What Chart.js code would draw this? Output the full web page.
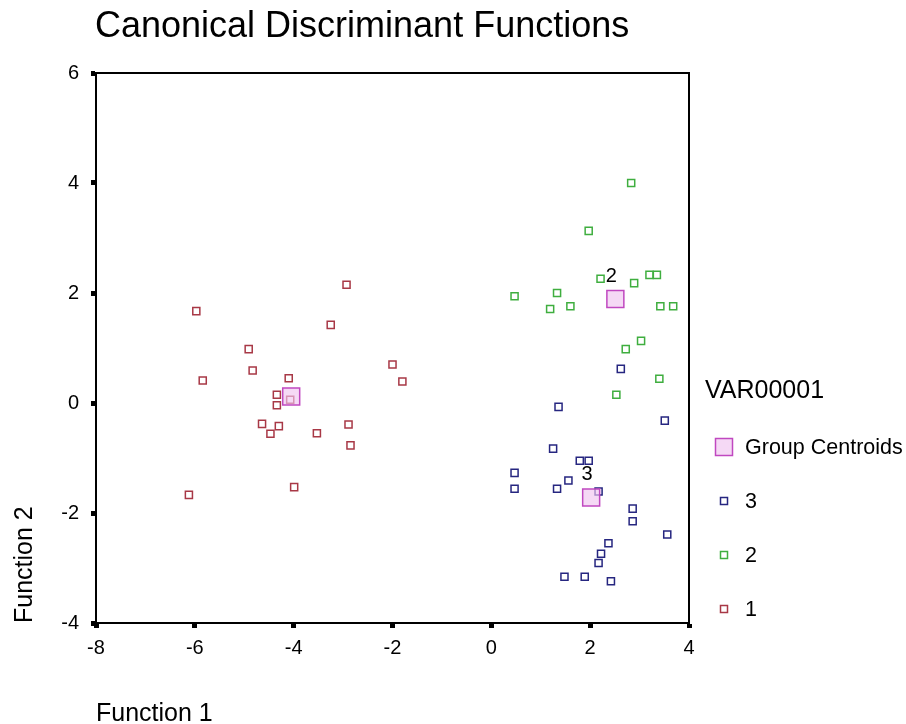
<!DOCTYPE html>
<html>
<head>
<meta charset="utf-8">
<title>Canonical Discriminant Functions</title>
<script src="https://cdn.jsdelivr.net/npm/chart.js@4.4.1/dist/chart.umd.min.js"></script>
<style>
  html, body { margin: 0; padding: 0; background: #fff; }
  #chart { display: block; }
</style>
</head>
<body>
<canvas id="chart" width="906" height="724"></canvas>
<script>
// --- Data: [Function 1, Function 2] ---
const group1 = [
  [-5.97, 1.67], [-4.91, 0.98], [-4.83, 0.59], [-5.84, 0.41], [-4.34, 0.15],
  [-4.34, -0.04], [-4.64, -0.38], [-4.47, -0.56], [-2.93, 2.15], [-3.25, 1.42],
  [-2.00, 0.70], [-1.80, 0.39], [-4.10, 0.45], [-4.07, 0.06], [-4.30, -0.42],
  [-3.53, -0.55], [-2.89, -0.39], [-2.85, -0.77], [-3.99, -1.53], [-6.12, -1.67]
];
const group2 = [
  [2.83, 4.00], [1.97, 3.13], [2.21, 2.26], [2.89, 2.18], [3.20, 2.33],
  [3.35, 2.33], [0.47, 1.94], [1.33, 2.00], [1.19, 1.71], [1.60, 1.76],
  [3.42, 1.76], [3.68, 1.76], [3.03, 1.13], [2.72, 0.98], [3.40, 0.44],
  [2.53, 0.15]
];
const group3 = [
  [2.62, 0.62], [1.36, -0.07], [3.51, -0.32], [1.25, -0.83], [1.79, -1.05],
  [1.97, -1.05], [0.47, -1.27], [0.47, -1.56], [1.56, -1.41], [1.33, -1.56],
  [2.17, -1.61], [2.86, -1.92], [2.86, -2.15], [3.56, -2.39], [2.37, -2.55],
  [2.22, -2.74], [2.17, -2.91], [1.48, -3.16], [1.89, -3.16], [2.42, -3.24]
];
const centroids = [[-4.05, 0.12], [2.51, 1.89], [2.02, -1.72]];
const centroidLabels = ['', '2', '3'];   // the "1" label is not visible in the source

const xTicks = [-8, -6, -4, -2, 0, 2, 4];
const yTicks = [-4, -2, 0, 2, 4, 6];

const chartTitle = 'Canonical Discriminant Functions';
const xTitle = 'Function 1';
const yTitle = 'Function 2';
const legendTitle = 'VAR00001';
const legendLabels = ['Group Centroids', '3', '2', '1'];

// --- Styles ---
const FONT = '"Liberation Sans", Arial, sans-serif';
const RED = '#a83846';
const GREEN = '#3fae3f';
const NAVY = '#262680';
const MAGENTA = '#c048c0';
const PINK = 'rgba(240, 196, 240, 0.65)';

const toPoints = arr => arr.map(p => ({ x: p[0], y: p[1] }));

function smallSet(label, data, color) {
  return {
    label,
    data: toPoints(data),
    pointStyle: 'rect',
    pointRadius: 5,
    pointHoverRadius: 5,
    borderColor: color,
    backgroundColor: 'rgba(255,255,255,0)',
    pointBorderWidth: 1.5
  };
}

// dataset 0 is drawn on top, so centroids go first (also matches legend order)
const datasets = [
  {
    label: legendLabels[0],
    data: toPoints(centroids),
    pointStyle: 'rect',
    pointRadius: 12,
    pointHoverRadius: 12,
    borderColor: MAGENTA,
    backgroundColor: PINK,
    pointBorderWidth: 1.5
  },
  smallSet(legendLabels[1], group3, NAVY),
  smallSet(legendLabels[2], group2, GREEN),
  smallSet(legendLabels[3], group1, RED)
];

// --- Frame, title, centroid labels and legend ---
const overlay = {
  id: 'overlay',
  beforeDatasetsDraw(chart) {
    const { ctx, chartArea: a } = chart;
    ctx.save();
    ctx.strokeStyle = '#000';
    ctx.lineWidth = 2;
    ctx.beginPath();
    ctx.moveTo(a.left, a.top);
    ctx.lineTo(a.right, a.top);
    ctx.lineTo(a.right, a.bottom);
    ctx.stroke();
    ctx.restore();
  },
  afterDraw(chart) {
    const { ctx } = chart;
    const xs = chart.scales.x, ys = chart.scales.y;
    ctx.save();
    ctx.fillStyle = '#000';

    // title
    ctx.font = '36px ' + FONT;
    ctx.textAlign = 'left';
    ctx.textBaseline = 'alphabetic';
    ctx.fillText(chartTitle, 95, 37);

    // centroid labels
    ctx.font = '20px ' + FONT;
    ctx.textAlign = 'center';
    ctx.textBaseline = 'middle';
    centroids.forEach((c, i) => {
      if (!centroidLabels[i]) return;
      ctx.fillText(centroidLabels[i], xs.getPixelForValue(c[0]) - 4, ys.getPixelForValue(c[1]) - 23);
    });

    // legend
    ctx.textAlign = 'left';
    ctx.textBaseline = 'alphabetic';
    ctx.font = '25px ' + FONT;
    ctx.fillText(legendTitle, 705, 398);

    const rowsY = [447, 501, 555, 609];
    ctx.font = '21.5px ' + FONT;
    ctx.textBaseline = 'middle';
    chart.data.datasets.forEach((ds, i) => {
      const y = rowsY[i];
      const side = i === 0 ? 17 : 7;
      const cx = 724;
      ctx.fillStyle = ds.backgroundColor;
      ctx.fillRect(cx - side / 2, y - side / 2, side, side);
      ctx.strokeStyle = ds.borderColor;
      ctx.lineWidth = 1.5;
      ctx.strokeRect(cx - side / 2, y - side / 2, side, side);
      ctx.fillStyle = '#000';
      ctx.fillText(ds.label, 745, y + 1);
    });
    ctx.restore();
  }
};

const tickFont = { family: FONT, size: 20 };
const xTitleFont = { family: FONT, size: 25, lineHeight: 0.8 };
const yTitleFont = { family: FONT, size: 25, lineHeight: 1 };

new Chart(document.getElementById('chart'), {
  type: 'scatter',
  data: { datasets },
  options: {
    responsive: false,
    animation: false,
    events: [],
    layout: { padding: { top: 73, right: 217, bottom: 0, left: 0 } },
    plugins: {
      legend: { display: false },
      title: { display: false },
      tooltip: { enabled: false }
    },
    scales: {
      x: {
        type: 'linear',
        min: xTicks[0],
        max: xTicks[xTicks.length - 1],
        afterBuildTicks: s => { s.ticks = xTicks.map(v => ({ value: v })); },
        afterFit: s => { s.height = 101; },
        ticks: { color: '#000', font: tickFont, padding: 8 },
        grid: { drawOnChartArea: false, drawTicks: true, tickLength: 5, tickWidth: 5, tickColor: '#000' },
        border: { display: true, color: '#000', width: 2 },
        title: { display: true, text: xTitle, align: 'start', color: '#000', font: xTitleFont, padding: { top: 0, bottom: 0 } }
      },
      y: {
        type: 'linear',
        min: yTicks[0],
        max: yTicks[yTicks.length - 1],
        afterBuildTicks: s => { s.ticks = yTicks.map(v => ({ value: v })); },
        afterFit: s => { s.width = 96; },
        ticks: { color: '#000', font: tickFont, padding: 12 },
        grid: { drawOnChartArea: false, drawTicks: true, tickLength: 5, tickWidth: 5, tickColor: '#000' },
        border: { display: true, color: '#000', width: 2 },
        title: { display: true, text: yTitle, align: 'start', color: '#000', font: yTitleFont, padding: { top: 13, bottom: 0 } }
      }
    }
  },
  plugins: [overlay]
});
</script>
</body>
</html>
